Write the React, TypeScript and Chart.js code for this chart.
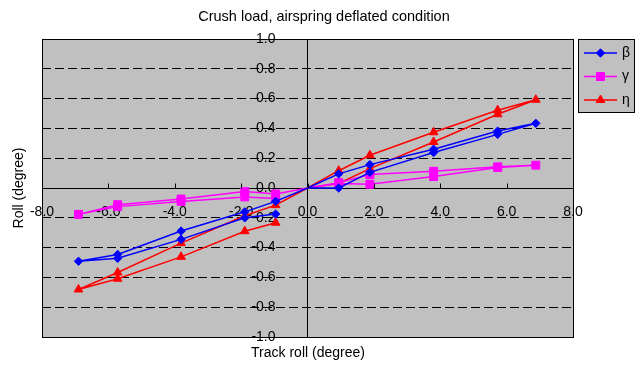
import React, { useEffect, useRef } from "react";
import { Chart, registerables } from "chart.js";

Chart.register(...registerables);

// ---- data ----
const chartTitle = "Crush load, airspring deflated condition";
const xAxisTitle = "Track roll (degree)";
const yAxisTitle = "Roll (degree)";

const trackRoll = [0, 0.94, 1.88, 3.8, 5.73, 6.88, 5.73, 3.8, 1.88, 0.94, 0, -0.96, -1.89, -3.81, -5.72, -6.9, -5.72, -3.81, -1.89, -0.96];
const betaRoll = [0, 0.0, 0.105, 0.238, 0.36, 0.434, 0.382, 0.26, 0.157, 0.095, 0, -0.09, -0.16, -0.289, -0.446, -0.492, -0.472, -0.345, -0.2, -0.175];
const gammaRoll = [0, 0.03, 0.025, 0.077, 0.138, 0.153, 0.142, 0.112, 0.09, 0.036, 0, -0.04, -0.024, -0.074, -0.112, -0.177, -0.125, -0.09, -0.06, -0.07];
const etaRoll = [0, 0.03, 0.13, 0.309, 0.495, 0.592, 0.522, 0.374, 0.22, 0.116, 0, -0.115, -0.186, -0.37, -0.567, -0.681, -0.609, -0.462, -0.29, -0.233];

const seriesNames = ["β", "γ", "η"];
const seriesColors = ["#0000FF", "#FF00FF", "#FF0000"];
const seriesMarkers = ["rectRot", "rect", "triangle"];
const seriesMarkerRadius = [4.2, 5.6, 5];

const xMin = -8, xMax = 8, xStep = 2;
const yMin = -1, yMax = 1, yStep = 0.2;

const FONT = "'Liberation Sans', Arial, sans-serif";
const PLOT_BG = "#C0C0C0";

const seriesValues = [betaRoll, gammaRoll, etaRoll];

const fmt = (v: number) => (Math.round(v * 10) / 10).toFixed(1);

function drawMarker(ctx: CanvasRenderingContext2D, style: string, x: number, y: number, r: number) {
  ctx.beginPath();
  if (style === "rect") {
    const s = r * Math.SQRT1_2;
    ctx.rect(x - s, y - s, 2 * s, 2 * s);
  } else if (style === "rectRot") {
    ctx.moveTo(x - r, y);
    ctx.lineTo(x, y - r);
    ctx.lineTo(x + r, y);
    ctx.lineTo(x, y + r);
    ctx.closePath();
  } else {
    const a = (Math.PI * 2) / 3;
    let rad = -Math.PI / 2;
    ctx.moveTo(x + Math.cos(rad) * r, y + Math.sin(rad) * r);
    rad += a;
    ctx.lineTo(x + Math.cos(rad) * r, y + Math.sin(rad) * r);
    rad += a;
    ctx.lineTo(x + Math.cos(rad) * r, y + Math.sin(rad) * r);
    ctx.closePath();
  }
  ctx.fill();
  ctx.stroke();
}

const decorPlugin = {
  id: "decor",
  beforeDraw(chart: any) {
    const { ctx, chartArea: a } = chart;
    // shift the y tick labels to the left of the vertical axis
    const ys = chart.scales.y;
    const items = ys.getLabelItems(a);
    if (!ys._shifted) {
      items.forEach((it: any) => {
        it.options.translation[0] -= 16;
      });
      ys._shifted = true;
    }
    ctx.save();
    ctx.fillStyle = PLOT_BG;
    ctx.fillRect(a.left, a.top, a.right - a.left, a.bottom - a.top);
    ctx.restore();
  },
  afterDraw(chart: any) {
    const { ctx, chartArea: a } = chart;
    const xs = chart.scales.x;
    const ys = chart.scales.y;
    ctx.save();
    // plot frame
    ctx.strokeStyle = "#000";
    ctx.lineWidth = 1;
    ctx.setLineDash([]);
    ctx.strokeRect(Math.round(a.left) + 0.5, Math.round(a.top) + 0.5, Math.round(a.right - a.left), Math.round(a.bottom - a.top));
    // x tick marks pointing up from the axis
    const y0 = Math.round(ys.getPixelForValue(0)) + 0.5;
    ctx.beginPath();
    xs.ticks.forEach((t: any) => {
      const px = Math.round(xs.getPixelForValue(t.value)) + 0.5;
      ctx.moveTo(px, y0);
      ctx.lineTo(px, y0 - 5);
    });
    ctx.stroke();

    // texts
    ctx.fillStyle = "#000";
    ctx.textAlign = "center";
    ctx.textBaseline = "middle";
    ctx.font = `14.5px ${FONT}`;
    ctx.fillText(chartTitle, 324, 17);
    ctx.font = `14px ${FONT}`;
    ctx.fillText(xAxisTitle, 308, 353);
    ctx.save();
    ctx.translate(19, 188);
    ctx.rotate(-Math.PI / 2);
    ctx.fillText(yAxisTitle, 0, 0);
    ctx.restore();

    // legend
    const lx = 578, ly = 39, lw = 56, lh = 73;
    ctx.fillStyle = PLOT_BG;
    ctx.fillRect(lx, ly, lw, lh);
    ctx.strokeStyle = "#000";
    ctx.lineWidth = 1;
    ctx.strokeRect(lx + 0.5, ly + 0.5, lw, lh);
    seriesNames.forEach((name, i) => {
      const cy = ly + 14 + i * 23.5;
      ctx.strokeStyle = seriesColors[i];
      ctx.lineWidth = 1.5;
      ctx.beginPath();
      ctx.moveTo(lx + 6, cy);
      ctx.lineTo(lx + 39, cy);
      ctx.stroke();
      ctx.fillStyle = seriesColors[i];
      ctx.lineWidth = 1;
      drawMarker(ctx, seriesMarkers[i], lx + 22.5, cy, seriesMarkerRadius[i]);
      ctx.fillStyle = "#000";
      ctx.textAlign = "left";
      ctx.font = `14px ${FONT}`;
      ctx.fillText(name, lx + 44, cy);
    });
    ctx.restore();
  },
};

export default function App() {
  const ref = useRef<HTMLCanvasElement | null>(null);

  useEffect(() => {
    if (!ref.current) return;
    const datasets = seriesNames.map((name, i) => ({
      label: name,
      data: trackRoll.map((x, k) => ({ x, y: seriesValues[i][k] })),
      borderColor: seriesColors[i],
      backgroundColor: seriesColors[i],
      borderWidth: 1.5,
      pointStyle: seriesMarkers[i],
      pointRadius: (c: any) => (c.raw && c.raw.x === 0 ? 0 : seriesMarkerRadius[i]),
      pointBorderWidth: 1,
      showLine: true,
      tension: 0,
      fill: false,
    }));

    const chart = new Chart(ref.current, {
      type: "scatter",
      data: { datasets },
      options: {
        animation: false,
        responsive: false,
        maintainAspectRatio: false,
        layout: { padding: { left: 42, top: 39, right: 71, bottom: 30 } },
        plugins: {
          legend: { display: false },
          title: { display: false },
          tooltip: { enabled: false },
        },
        scales: {
          x: {
            type: "linear",
            min: xMin,
            max: xMax,
            position: "center",
            ticks: {
              stepSize: xStep,
              color: "#000",
              font: { family: FONT, size: 14 },
              padding: 16,
              maxRotation: 0,
              callback: (v: any) => fmt(Number(v)),
            },
            grid: { display: false, drawTicks: false },
            border: { display: true, color: "#000", width: 1 },
          },
          y: {
            type: "linear",
            min: yMin,
            max: yMax,
            position: "center",
            ticks: {
              stepSize: yStep,
              color: "#000",
              font: { family: FONT, size: 14 },
              padding: 11,
              callback: (v: any) => fmt(Number(v)),
            },
            grid: {
              display: true,
              drawOnChartArea: true,
              drawTicks: true,
              tickLength: 5,
              color: (c: any) => (c.tick && Math.abs(c.tick.value) < 1e-9 ? "rgba(0,0,0,0)" : "#000"),
              tickColor: "#000",
              lineWidth: 1,
            },
            border: { display: true, color: "#000", width: 1, dash: [9, 4] },
          },
        },
      },
      plugins: [decorPlugin],
    });
    return () => chart.destroy();
  }, []);

  return (
    <div style={{ position: "fixed", left: 0, top: 0, width: 644, height: 367, background: "#fff" }}>
      <canvas ref={ref} width={644} height={367} style={{ width: 644, height: 367, display: "block" }} />
    </div>
  );
}
